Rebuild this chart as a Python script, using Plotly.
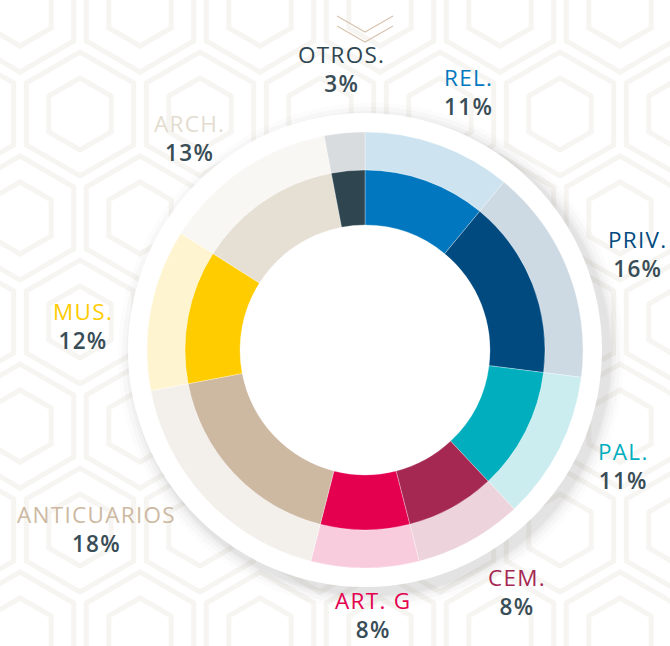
import math
import plotly.graph_objects as go

# ---- data ----
categories = ["REL.", "PRIV.", "PAL.", "CEM.", "ART. G", "ANTICUARIOS", "MUS.", "ARCH.", "OTROS."]
values = [11, 16, 11, 8, 8, 18, 12, 13, 3]
pct_labels = ["11%", "16%", "11%", "8%", "8%", "18%", "12%", "13%", "3%"]

# ---- styles ----
inner_colors = ["#0077BE", "#004A80", "#00AEBE", "#A52853", "#E4004F",
                "#CDB9A2", "#FFCC00", "#E6DFD3", "#2F4650"]
outer_colors = ["#CDE4F0", "#CDD9E3", "#CCEDF0", "#EDD4DC", "#F8CCDC",
                "#F3F0EC", "#FFF4D0", "#F8F7F3", "#D8DCDF"]
name_colors = ["#0077BE", "#004A80", "#00AEBE", "#A52853", "#E4004F",
               "#CDB9A2", "#FFCC00", "#E3DCCF", "#2F4650"]
PCT_COLOR = "#394D57"
FONT = "Open Sans"
TRACK = "letter-spacing:1.3px"
FS = 22.5

W, H = 670, 646
CX, CY = 365, 350          # donut centre in pixels (from top-left)
R_OUT, R_MID, R_IN = 218, 180, 125
R_DISC = 237

def px(x):
    return x / W

def py(y):
    return 1 - y / H

def domain(r):
    return dict(x=[px(CX - r), px(CX + r)], y=[py(CY + r), py(CY - r)])

fig = go.Figure()
fig.add_trace(go.Pie(
    values=values, labels=categories, sort=False, direction="clockwise", rotation=0,
    hole=R_MID / R_OUT, domain=domain(R_OUT), textinfo="none", hoverinfo="label+percent",
    marker=dict(colors=outer_colors, line=dict(color="rgba(255,255,255,0.6)", width=0.5)),
    showlegend=False,
))
fig.add_trace(go.Pie(
    values=values, labels=categories, sort=False, direction="clockwise", rotation=0,
    hole=R_IN / R_MID, domain=domain(R_MID), textinfo="none", hoverinfo="label+percent",
    marker=dict(colors=inner_colors, line=dict(color="rgba(255,255,255,0.6)", width=0.5)),
    showlegend=False,
))

shapes = []

# faint geometric background pattern (nested hexagons)
def hexagon(cx, cy, r):
    pts = []
    for k in range(6):
        a = math.radians(60 * k + 30)
        pts.append((cx + r * math.cos(a), cy + r * math.sin(a)))
    return "M " + " L ".join(f"{px(x):.4f},{py(y):.4f}" for x, y in pts) + " Z"

path = []
step_x = 120
step_y = 104
for row in range(-1, 9):
    for col in range(-1, 8):
        cx = col * step_x + (step_x / 2 if row % 2 else 0) + 20
        cy = row * step_y + 10
        path.append(hexagon(cx, cy, 62))
        path.append(hexagon(cx, cy, 36))
shapes.append(dict(type="path", path=" ".join(path), xref="paper", yref="paper",
                   line=dict(color="#F7F5F2", width=5), layer="below"))

# soft shadow + white disc behind the donut
for extra, op in [(16, 0.025), (12, 0.035), (8, 0.045), (5, 0.055), (3, 0.06)]:
    r = R_DISC + extra
    ox, oy = 6, 6
    shapes.append(dict(type="circle", xref="paper", yref="paper",
                       x0=px(CX + ox - r), x1=px(CX + ox + r),
                       y0=py(CY + oy + r), y1=py(CY + oy - r),
                       fillcolor=f"rgba(120,120,120,{op})", line=dict(width=0), layer="below"))
shapes.append(dict(type="circle", xref="paper", yref="paper",
                   x0=px(CX - R_DISC), x1=px(CX + R_DISC),
                   y0=py(CY + R_DISC), y1=py(CY - R_DISC),
                   fillcolor="#FFFFFF", line=dict(width=0), layer="below"))

# chevron at the top
for yoff in (0, 10):
    shapes.append(dict(type="path", xref="paper", yref="paper",
                       path=f"M {px(337):.4f},{py(16 + yoff):.4f} L {px(365):.4f},{py(32 + yoff):.4f} L {px(393):.4f},{py(16 + yoff):.4f}",
                       line=dict(color="#D8C5B0", width=1.2)))

# label positions (pixel centre of the two-line label block)
label_pos = {
    "REL.": (468, 92), "PRIV.": (638, 254), "PAL.": (623, 466),
    "CEM.": (517, 592), "ART. G": (373, None), "ANTICUARIOS": (96, 529),
    "MUS.": (83, 326), "ARCH.": (189, 138), "OTROS.": (341, 69),
}
annotations = []
for name, pct, col in zip(categories, pct_labels, name_colors):
    x, y = label_pos[name]
    text = (f"<span style='{TRACK};color:{col}'>{name}</span><br>"
            f"<span style='{TRACK};color:{PCT_COLOR};font-weight:600'>{pct}</span>")
    if y is None:
        ya, yv = "bottom", 0.0
    else:
        ya, yv = "middle", py(y)
    annotations.append(dict(x=px(x), y=yv, xref="paper", yref="paper", text=text,
                            showarrow=False, xanchor="center", yanchor=ya, borderpad=0,
                            font=dict(family=FONT, size=FS, color=PCT_COLOR)))

fig.update_layout(
    width=W, height=H, margin=dict(l=0, r=0, t=0, b=0),
    paper_bgcolor="#FFFFFF", plot_bgcolor="#FFFFFF",
    shapes=shapes, annotations=annotations,
)
fig.write_html("out.html", config={"displayModeBar": False},
               post_script="document.body.style.margin='0';document.body.style.overflow='hidden';")
